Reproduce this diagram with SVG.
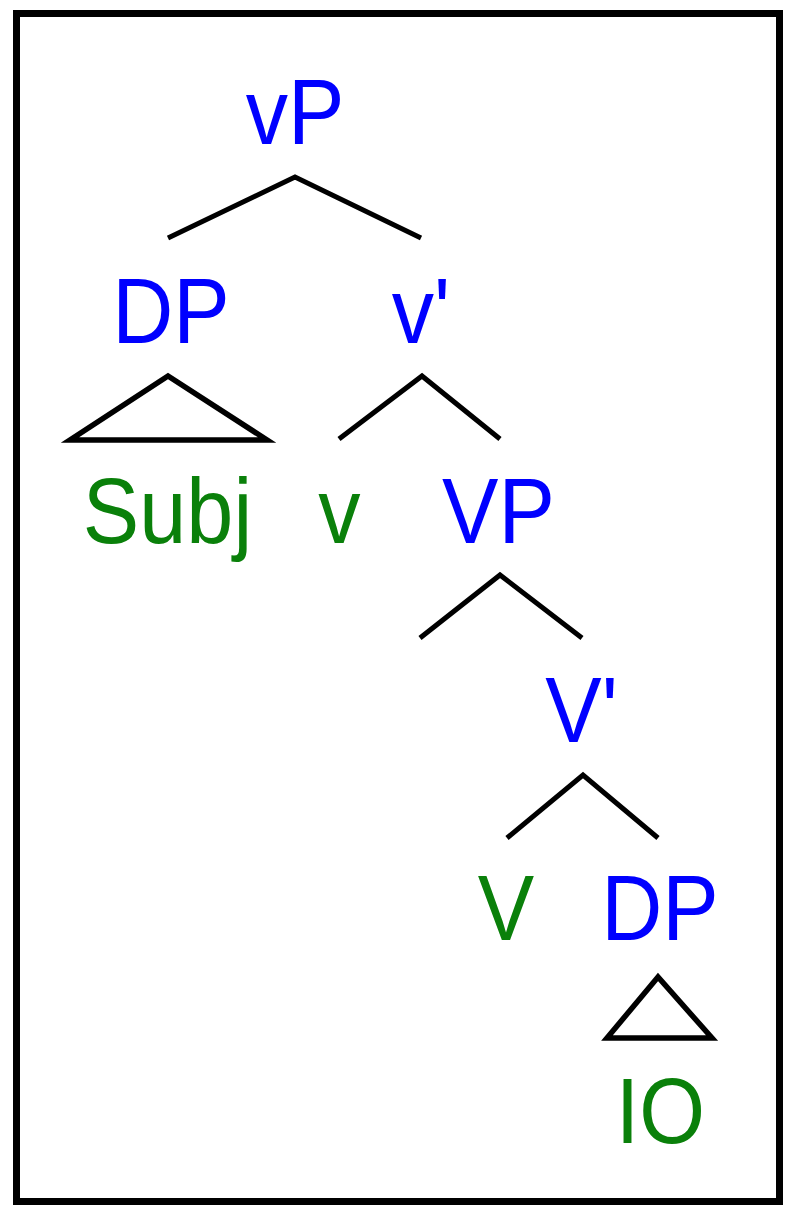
<svg xmlns="http://www.w3.org/2000/svg" width="794" height="1220" viewBox="0 0 794 1220">
<style>
  text { font-family: "Liberation Sans", Arial, sans-serif; font-size: 92px; text-anchor: middle; }
  .phr { fill: #0000FF; }
  .lex { fill: #0A800A; }
  .edge { stroke: #000; stroke-width: 5; fill: none; stroke-linecap: butt; }
  .tri { stroke: #000; stroke-width: 5.5; fill: none; stroke-linejoin: miter; }
</style>
<rect x="0" y="0" width="794" height="1220" fill="#fff"/>
<rect id="frame" x="16.5" y="13.5" width="763" height="1188" fill="none" stroke="#000" stroke-width="7"/>
<g id="connectors">
  <polyline class="edge" points="168,238 295,177 421,238"/>
  <polyline class="edge" points="339,439 422,376 500,439"/>
  <polyline class="edge" points="420,638 500,575 582,638"/>
  <polyline class="edge" points="507,838 583,775 658,838"/>
  <polygon class="tri" points="168,376 70,440 267,440"/>
  <polygon class="tri" points="658,977 607,1038 712,1038"/>
</g>
<g id="node-vP"><text class="phr" transform="translate(295,144) scale(0.92,1)">vP</text></g>
<g id="node-DP1"><text class="phr" transform="translate(171,343) scale(0.92,1)">DP</text></g>
<g id="node-vbar"><text class="phr" transform="translate(421,343) scale(0.92,1)">v'</text></g>
<g id="node-Subj"><text class="lex" transform="translate(167.5,543) scale(0.92,1)">Subj</text></g>
<g id="node-v"><text class="lex" transform="translate(339.5,543) scale(0.92,1)">v</text></g>
<g id="node-VP"><text class="phr" transform="translate(498.5,543) scale(0.92,1)">VP</text></g>
<g id="node-Vbar"><text class="phr" transform="translate(581.5,742) scale(0.92,1)">V'</text></g>
<g id="node-V"><text class="lex" transform="translate(506,940) scale(0.92,1)">V</text></g>
<g id="node-DP2"><text class="phr" transform="translate(660,940) scale(0.92,1)">DP</text></g>
<g id="node-IO"><text class="lex" transform="translate(660.5,1143) scale(0.92,1)">IO</text></g>
</svg>
